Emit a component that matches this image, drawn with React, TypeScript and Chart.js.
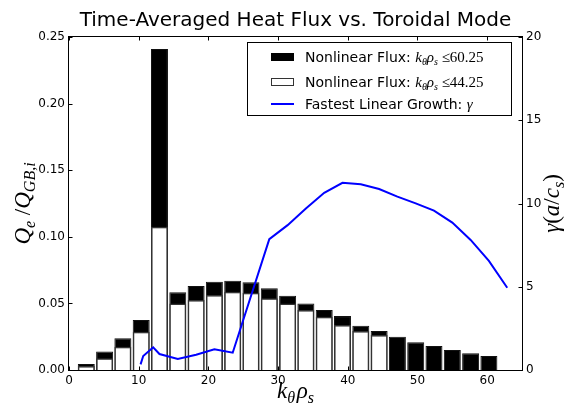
import React, { useEffect, useRef } from "react";
import { Chart, registerables } from "chart.js";

Chart.register(...registerables);

const titleText = "Time-Averaged Heat Flux vs. Toroidal Mode";

// k_theta rho_s of each toroidal-mode bar
const kBars = [2.48, 5.11, 7.73, 10.36, 12.98, 15.61, 18.24, 20.86, 23.49, 26.11, 28.74, 31.37, 33.99, 36.62, 39.24, 41.87, 44.5, 47.12, 49.75, 52.37, 55.0, 57.63, 60.25];
// Nonlinear flux, k rho <= 60.25 (black)
const fluxAll = [0.0045, 0.0138, 0.0238, 0.0375, 0.241, 0.0583, 0.063, 0.0663, 0.067, 0.0658, 0.0613, 0.0558, 0.05, 0.045, 0.0405, 0.0333, 0.0293, 0.025, 0.0208, 0.018, 0.015, 0.0125, 0.0105];
// Nonlinear flux, k rho <= 44.25 (white)
const fluxLow = [0.003, 0.0088, 0.0175, 0.0288, 0.1076, 0.05, 0.0526, 0.0563, 0.0588, 0.058, 0.0538, 0.05, 0.045, 0.04, 0.0338, 0.0293, 0.0263];

// Fastest linear growth rate gamma(a/c_s)
const kGrowth = [10.27, 10.65, 12.08, 12.98, 15.61, 18.24, 20.86, 23.49, 28.74, 31.37, 33.99, 36.62, 39.24, 41.87, 44.5, 47.12, 49.75, 52.37, 55.0, 57.63, 60.25, 62.88];
const growth = [0.34, 0.84, 1.36, 0.96, 0.66, 0.92, 1.24, 1.04, 7.86, 8.7, 9.7, 10.64, 11.24, 11.15, 10.87, 10.41, 10.01, 9.57, 8.85, 7.81, 6.55, 4.94];

const xTicks = [0, 10, 20, 30, 40, 50, 60];
const yTicks = [0, 0.05, 0.1, 0.15, 0.2, 0.25];
const y2Ticks = [0, 5, 10, 15, 20];

const legendPrefix = ["Nonlinear Flux: ", "Nonlinear Flux: ", "Fastest Linear Growth: "];
const legendCut = ["60.25", "44.25"];

const SANS = '"DejaVu Sans"';
const SERIF = '"Liberation Serif"';
const sans = (n: number) => `${n}px ${SANS}`;
const serif = (n: number) => `${n}px ${SERIF}`;
const serifI = (n: number) => `italic ${n}px ${SERIF}`;

type Seg = { t: string; f: string; dy?: number };

function segWidth(ctx: CanvasRenderingContext2D, segs: Seg[]) {
  let w = 0;
  for (const s of segs) {
    ctx.font = s.f;
    w += ctx.measureText(s.t).width;
  }
  return w;
}

function drawSegs(ctx: CanvasRenderingContext2D, segs: Seg[], x: number, y: number, align: "left" | "center") {
  const w = segWidth(ctx, segs);
  let cx = align === "center" ? x - w / 2 : x;
  ctx.textAlign = "left";
  ctx.textBaseline = "alphabetic";
  for (const s of segs) {
    ctx.font = s.f;
    ctx.fillText(s.t, cx, y + (s.dy || 0));
    cx += ctx.measureText(s.t).width;
  }
}

const decorPlugin = {
  id: "mplDecor",
  afterDraw(chart: any) {
    const ctx: CanvasRenderingContext2D = chart.ctx;
    const { left, right, top, bottom } = chart.chartArea;
    const L = Math.round(left) - 0.5;
    const R = Math.round(right) + 0.5;
    const T = Math.round(top) - 0.5;
    const B = Math.round(bottom) + 0.5;
    ctx.save();
    ctx.fillStyle = "#000";
    ctx.strokeStyle = "#000";
    ctx.lineWidth = 1;

    // inward ticks
    const tl = 4;
    ctx.beginPath();
    const sx = chart.scales.x;
    for (const v of xTicks) {
      const px = Math.round(sx.getPixelForValue(v)) + 0.5;
      ctx.moveTo(px, B);
      ctx.lineTo(px, B - tl);
      ctx.moveTo(px, T);
      ctx.lineTo(px, T + tl);
    }
    const sy = chart.scales.y;
    for (const v of yTicks) {
      const py = Math.round(sy.getPixelForValue(v)) + 0.5;
      ctx.moveTo(L, py);
      ctx.lineTo(L + tl, py);
    }
    const sy2 = chart.scales.y2;
    for (const v of y2Ticks) {
      const py = Math.round(sy2.getPixelForValue(v)) + 0.5;
      ctx.moveTo(R, py);
      ctx.lineTo(R - tl, py);
    }
    ctx.stroke();

    // frame
    ctx.strokeRect(L, T, R - L, B - T);

    // title
    ctx.font = sans(20);
    ctx.textAlign = "center";
    ctx.textBaseline = "alphabetic";
    ctx.fillText(titleText, (left + right) / 2, 26);

    // x label: k_theta rho_s
    drawSegs(
      ctx,
      [
        { t: "k", f: serifI(23) },
        { t: "θ", f: serifI(16), dy: 5 },
        { t: " ", f: serifI(7) },
        { t: "ρ", f: serifI(23) },
        { t: "s", f: serifI(16), dy: 5 },
      ],
      (left + right) / 2,
      398,
      "center"
    );

    // left y label: Q_e / Q_GB,i
    ctx.save();
    ctx.translate(30, (top + bottom) / 2);
    ctx.rotate(-Math.PI / 2);
    drawSegs(
      ctx,
      [
        { t: "Q", f: serifI(23) },
        { t: "e", f: serifI(16), dy: 5 },
        { t: " /", f: serif(23) },
        { t: "Q", f: serifI(23) },
        { t: "GB", f: serifI(16), dy: 5 },
        { t: ",", f: serif(16), dy: 5 },
        { t: "i", f: serifI(16), dy: 5 },
      ],
      0,
      0,
      "center"
    );
    ctx.restore();

    // right y label: gamma(a/c_s)
    ctx.save();
    ctx.translate(552, (top + bottom) / 2);
    ctx.rotate(-Math.PI / 2);
    drawSegs(
      ctx,
      [
        { t: "γ", f: serifI(23) },
        { t: "(", f: serif(23) },
        { t: "a", f: serifI(23) },
        { t: "/", f: serif(23) },
        { t: "c", f: serifI(23) },
        { t: "s", f: serifI(16), dy: 5 },
        { t: ")", f: serif(23) },
      ],
      0,
      7,
      "center"
    );
    ctx.restore();

    // legend
    const bw = 264;
    const bh = 73;
    const bx = Math.round(right) - 11 - bw;
    const by = Math.round(top) + 5;
    ctx.fillStyle = "#fff";
    ctx.fillRect(bx, by, bw, bh);
    ctx.strokeStyle = "#000";
    ctx.lineWidth = 1;
    ctx.strokeRect(bx + 0.5, by + 0.5, bw, bh);
    const hx = bx + 24;
    const hw = 23;
    const rows = [by + 15, by + 40, by + 62];
    // black patch
    ctx.fillStyle = "#000";
    ctx.fillRect(hx, rows[0] - 4, hw, 8);
    // white patch
    ctx.fillStyle = "#fff";
    ctx.fillRect(hx, rows[1] - 4, hw, 8);
    ctx.strokeStyle = "#333";
    ctx.strokeRect(hx + 0.5, rows[1] - 3.5, hw - 1, 7);
    // line
    ctx.strokeStyle = "#0000ff";
    ctx.lineWidth = 2;
    ctx.beginPath();
    ctx.moveTo(hx, rows[2]);
    ctx.lineTo(hx + hw, rows[2]);
    ctx.stroke();

    ctx.fillStyle = "#000";
    const tx = bx + 58;
    for (let i = 0; i < 2; i++) {
      drawSegs(
        ctx,
        [
          { t: legendPrefix[i], f: sans(14) },
          { t: "k", f: serifI(15) },
          { t: "θ", f: serifI(10), dy: 3 },
          { t: "ρ", f: serifI(15) },
          { t: "s", f: serifI(10), dy: 3 },
          { t: " ≤", f: serif(15) },
          { t: legendCut[i], f: serif(15) },
        ],
        tx,
        rows[i] + 5,
        "left"
      );
    }
    drawSegs(
      ctx,
      [
        { t: legendPrefix[2], f: sans(14) },
        { t: "γ", f: serifI(15) },
      ],
      tx,
      rows[2] + 5,
      "left"
    );
    ctx.restore();
  },
};

export default function App() {
  const ref = useRef<HTMLCanvasElement>(null);
  useEffect(() => {
    document.body.style.margin = "0";
    const canvas = ref.current;
    if (!canvas) return;
    const tickFont = { family: "DejaVu Sans", size: 12 };
    const chart = new Chart(canvas, {
      type: "bar",
      data: {
        datasets: [
          {
            type: "bar",
            label: "Nonlinear Flux <= 60.25",
            data: kBars.map((k, i) => ({ x: k, y: fluxAll[i] })),
            backgroundColor: "#000",
            borderColor: "#111",
            borderWidth: 1,
            yAxisID: "y",
            order: 2,
            grouped: false,
            barPercentage: 0.93,
            categoryPercentage: 1,
          } as any,
          {
            type: "bar",
            label: "Nonlinear Flux <= 44.25",
            data: fluxLow.map((v, i) => ({ x: kBars[i], y: v })),
            backgroundColor: "#fff",
            borderColor: "#333",
            borderWidth: 1.5,
            yAxisID: "y",
            order: 1,
            grouped: false,
            barPercentage: 0.93,
            categoryPercentage: 1,
          } as any,
          {
            type: "line",
            label: "Fastest Linear Growth",
            data: kGrowth.map((k, i) => ({ x: k, y: growth[i] })),
            borderColor: "#0000ff",
            backgroundColor: "#0000ff",
            borderWidth: 2,
            pointRadius: 0,
            tension: 0,
            fill: false,
            yAxisID: "y2",
            order: 0,
          } as any,
        ],
      },
      options: {
        responsive: false,
        animation: false,
        layout: { padding: { top: 37, left: 0, right: 0, bottom: 0 } },
        plugins: {
          legend: { display: false },
          title: { display: false },
          tooltip: { enabled: false },
        },
        scales: {
          x: {
            type: "linear",
            min: 0,
            max: 65,
            offset: false,
            grid: { display: false, drawTicks: false },
            border: { display: false },
            ticks: { font: tickFont, color: "#000", padding: 4, maxRotation: 0, autoSkip: false },
            afterBuildTicks: (s: any) => {
              s.ticks = xTicks.map((v) => ({ value: v }));
            },
            afterFit: (s: any) => {
              s.height = 40;
            },
          },
          y: {
            type: "linear",
            position: "left",
            min: 0,
            max: 0.25,
            grid: { display: false, drawTicks: false },
            border: { display: false },
            ticks: {
              font: tickFont,
              color: "#000",
              padding: 4,
              autoSkip: false,
              callback: (v: any) => Number(v).toFixed(2),
            },
            afterBuildTicks: (s: any) => {
              s.ticks = yTicks.map((v) => ({ value: v }));
            },
            afterFit: (s: any) => {
              s.width = 69;
            },
          },
          y2: {
            type: "linear",
            position: "right",
            min: 0,
            max: 20,
            grid: { display: false, drawTicks: false },
            border: { display: false },
            ticks: {
              font: tickFont,
              color: "#000",
              padding: 4,
              autoSkip: false,
              callback: (v: any) => String(v),
            },
            afterBuildTicks: (s: any) => {
              s.ticks = y2Ticks.map((v) => ({ value: v }));
            },
            afterFit: (s: any) => {
              s.width = 50;
            },
          },
        },
      } as any,
      plugins: [decorPlugin],
    });
    return () => chart.destroy();
  }, []);
  return (
    <div style={{ width: 572, height: 410, background: "#fff" }}>
      <canvas ref={ref} width={572} height={410} style={{ display: "block" }} />
    </div>
  );
}
